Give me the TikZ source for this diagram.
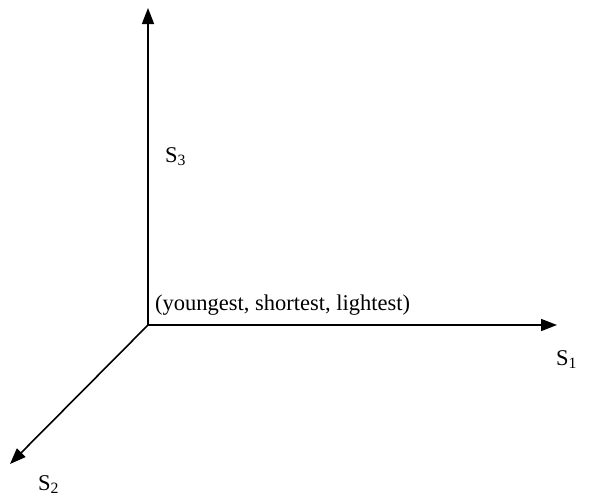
\documentclass[tikz,border=0pt]{standalone}
\usepackage{fontspec}
\setmainfont{Liberation Serif}
\usetikzlibrary{arrows.meta, positioning}

\begin{document}
\begin{tikzpicture}[x=1pt, y=-1pt,
  axis/.style={-{Triangle[length=16pt, width=12pt]}, line width=1.6pt},
  lbl/.style={inner sep=0pt, font=\fontsize{22.5}{27}\selectfont}]
  \useasboundingbox (0,0) rectangle (589,496);
  \coordinate (origin) at (148,325);
  \coordinate (s1end) at (557,325);
  \coordinate (s2end) at (10,464);
  \coordinate (s3end) at (148,8);
  \draw[axis] (origin) -- (s1end);
  \draw[axis] (origin) -- (s2end);
  \draw[axis] (origin) -- (s3end);
  \node[lbl, anchor=base west] (s3) at (165,162) {S\textsubscript{3}};
  \node[lbl, anchor=base west] (corner) at (155,310) {(youngest, shortest, lightest)};
  \node[lbl, anchor=base west] (s1) at (556,365) {S\textsubscript{1}};
  \node[lbl, anchor=base west] (s2) at (38,490) {S\textsubscript{2}};
\end{tikzpicture}
\end{document}
